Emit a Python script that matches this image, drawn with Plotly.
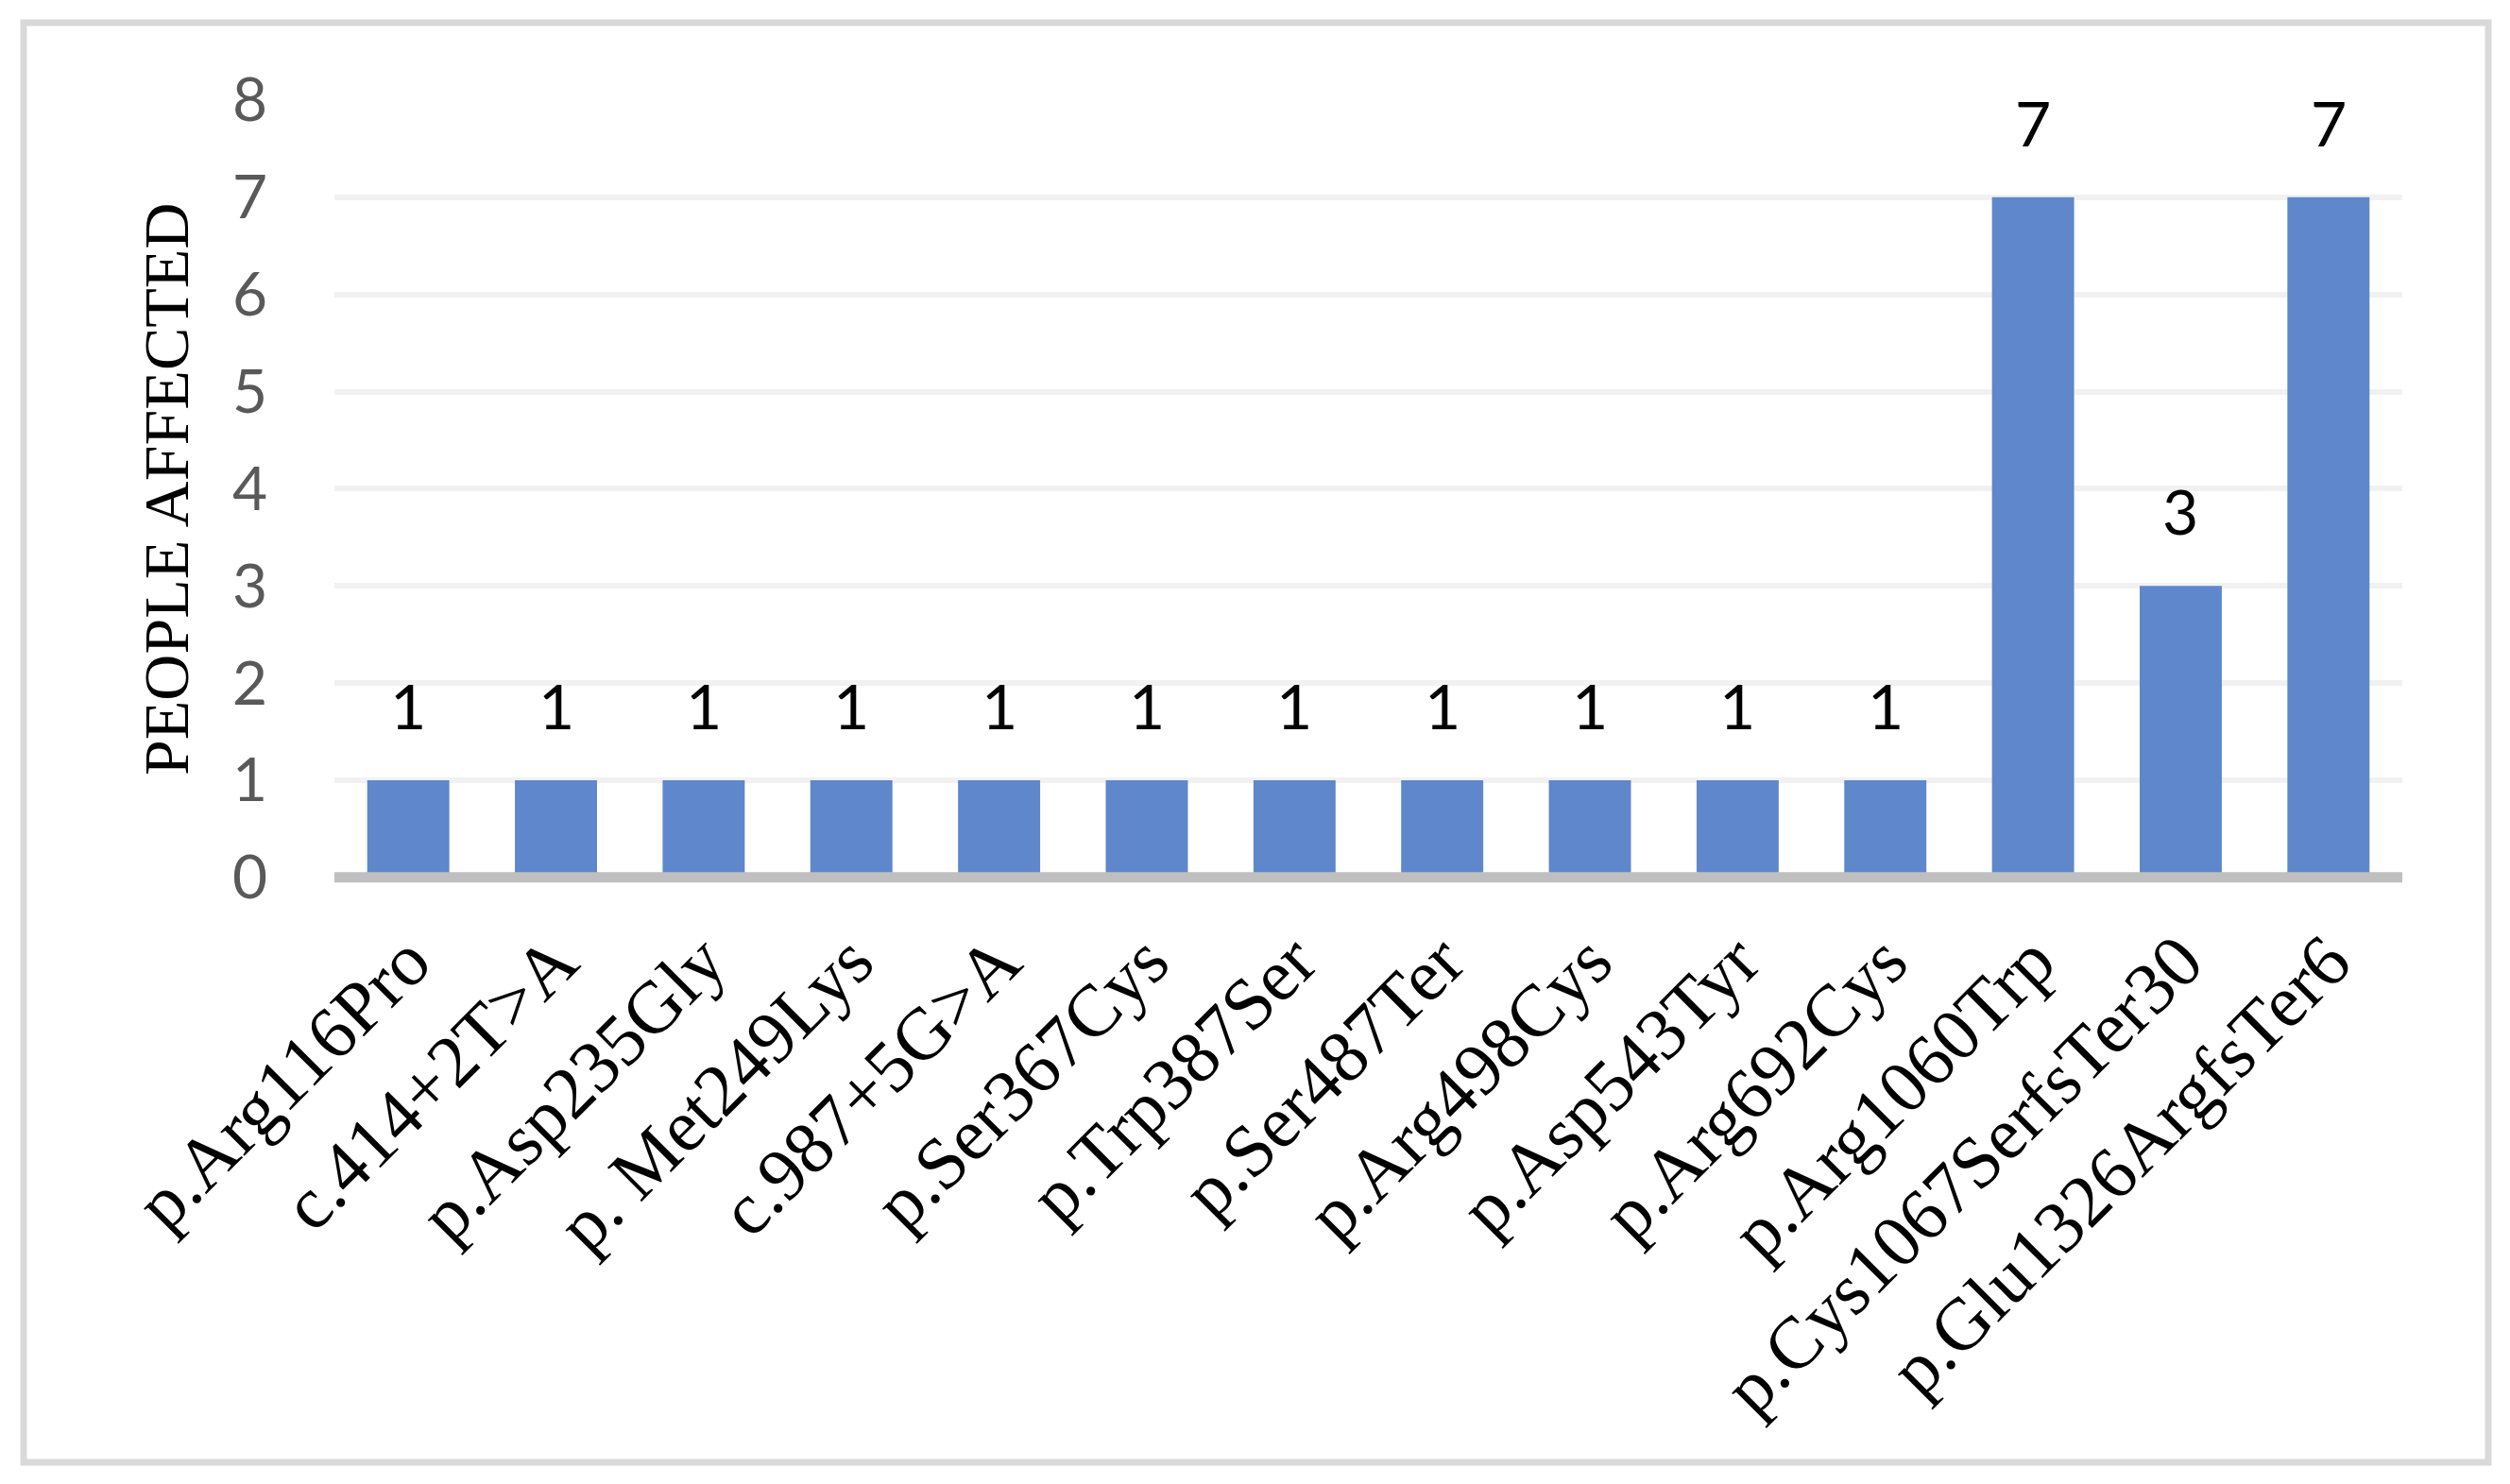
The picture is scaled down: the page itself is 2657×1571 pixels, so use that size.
import plotly.graph_objects as go

# ---- data ----
variants = [
    "p.Arg116Pro", "c.414+2T>A", "p.Asp235Gly", "p. Met249Lys", "c.987+5G>A",
    "p.Ser367Cys", "p.Trp387Ser", "p.Ser487Ter", "p.Arg498Cys", "p.Asp543Tyr",
    "p.Arg692Cys", "p.Arg1060Trp", "p.Cys1067SerfsTer30", "p.Glu1326ArgfsTer6",
]
people_affected = [1, 1, 1, 1, 1, 1, 1, 1, 1, 1, 1, 7, 3, 7]
y_ticks = [0, 1, 2, 3, 4, 5, 6, 7, 8]
y_title = "PEOPLE AFFECTED"

# ---- layout geometry (pixels) ----
W, H = 2657, 1571
PL, PR, PT, PB = 354, 2543, 106, 935   # plot area edges
def px_x(x):
    return (x - PL) / (PR - PL)
def px_y(y):
    return (PB - y) / (PB - PT)

BAR_COLOR = "#5F87CB"

fig = go.Figure()
fig.add_trace(go.Bar(
    x=variants, y=people_affected,
    marker=dict(color=BAR_COLOR, line=dict(width=0)),
    hoverinfo="x+y",
))

annotations = []
for v, n in zip(variants, people_affected):
    annotations.append(dict(
        x=v, y=n, xref="x", yref="y", text=str(n), showarrow=False,
        yanchor="bottom", xanchor="center", yshift=38,
        font=dict(family="Lato", size=66, color="#000000"),
    ))
# y axis title
annotations.append(dict(
    x=px_x(176), y=px_y(518), xref="paper", yref="paper", text=y_title,
    showarrow=False, textangle=-90, xanchor="center", yanchor="middle",
    font=dict(family="Liberation Serif", size=68, color="#000000"),
))

shapes = [
    # axis line at zero, drawn above bars
    dict(type="line", xref="paper", yref="y", x0=0, x1=1, y0=0, y1=0,
         line=dict(color="#BFBFBF", width=11), layer="above"),
    # outer chart border
    dict(type="rect", xref="paper", yref="paper",
         x0=px_x(25), x1=px_x(2634), y0=px_y(24), y1=px_y(1548),
         line=dict(color="#D9D9D9", width=7), fillcolor="rgba(0,0,0,0)",
         layer="below"),
]

fig.update_layout(
    width=W, height=H,
    margin=dict(l=PL, r=W - PR, t=PT, b=H - PB, autoexpand=False),
    paper_bgcolor="white", plot_bgcolor="white",
    bargap=0.444,
    showlegend=False,
    annotations=annotations,
    shapes=shapes,
    xaxis=dict(
        type="category",
        tickangle=-45,
        tickfont=dict(family="Liberation Serif", size=78, color="#000000"),
        showgrid=False, showline=False, zeroline=False,
        ticks="", ticklabelstandoff=20,
        automargin=False,
    ),
    yaxis=dict(
        range=[-0.06, 8],
        tickvals=y_ticks,
        ticktext=[str(t) for t in y_ticks],
        tickfont=dict(family="Lato", size=64, color="#595959"),
        showgrid=True, gridcolor="#F1F1F1", gridwidth=6,
        zeroline=False, showline=False,
        ticks="", ticklabelstandoff=70,
        automargin=False,
    ),
)

fig.write_html("out.html")
